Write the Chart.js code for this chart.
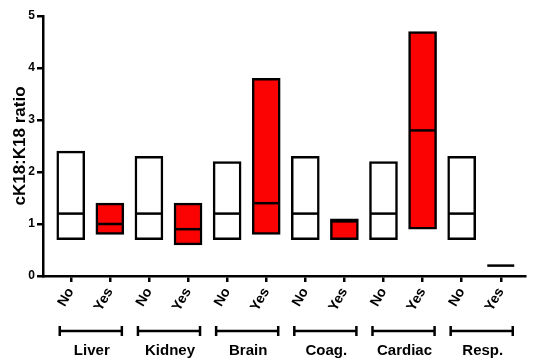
<!DOCTYPE html>
<html><head><meta charset="utf-8">
<script src="https://cdn.jsdelivr.net/npm/chart.js@4.4.0/dist/chart.umd.min.js"></script>
<style>html,body{margin:0;padding:0;background:#fff}#wrap{width:541px;height:361px}</style>
</head><body><div id="wrap"><canvas id="c" width="541" height="361"></canvas></div>
<script>
const groups = ["Liver", "Kidney", "Brain", "Coag.", "Cardiac", "Resp."];
const tickLabels = ["No", "Yes", "No", "Yes", "No", "Yes", "No", "Yes", "No", "Yes", "No", "Yes"];
const minValues = [0.7, 0.8, 0.7, 0.6, 0.7, 0.8, 0.7, 0.7, 0.7, 0.9, 0.7, 0.2];
const maxValues = [2.4, 1.4, 2.3, 1.4, 2.2, 3.8, 2.3, 1.1, 2.2, 4.7, 2.3, 0.2];
const medianValues = [1.2, 1.0, 1.2, 0.9, 1.2, 1.4, 1.2, 1.05, 1.2, 2.8, 1.2, 0.2];
const yTicks = [0, 1, 2, 3, 4, 5];

const FONT = '"Liberation Sans", Arial, Helvetica, sans-serif';
const barColors = tickLabels.map(l => l === "Yes" ? "#fb0303" : "#ffffff");
const X_MIN = -0.71, X_MAX = 11.62;

const groupPlugin = {
  id: 'groups',
  afterDraw(chart) {
    const ctx = chart.ctx, xs = chart.scales.x;
    ctx.save();
    ctx.strokeStyle = '#000'; ctx.fillStyle = '#000';
    ctx.lineWidth = 2.5;
    ctx.font = 'bold 15px ' + FONT;
    ctx.textAlign = 'center'; ctx.textBaseline = 'middle';
    groups.forEach((g, i) => {
      const x1 = xs.getPixelForValue(2 * i) - 11;
      const x2 = xs.getPixelForValue(2 * i + 1) + 12;
      const y = 331;
      ctx.beginPath();
      ctx.moveTo(x1, y); ctx.lineTo(x2, y);
      ctx.moveTo(x1, y - 5); ctx.lineTo(x1, y + 5);
      ctx.moveTo(x2, y - 5); ctx.lineTo(x2, y + 5);
      ctx.stroke();
      ctx.fillText(g, (x1 + x2) / 2 + 1, 351);
    });
    ctx.restore();
  }
};

new Chart(document.getElementById('c'), {
  type: 'bar',
  data: {
    datasets: [
      {
        type: 'line',
        data: medianValues.map((v, i) => ({x: i, y: v})),
        showLine: false,
        pointStyle: 'line',
        pointRadius: 13.5,
        pointBorderWidth: 2.5,
        borderColor: '#000',
        pointBorderColor: '#000',
        order: 0
      },
      {
        data: minValues.map((v, i) => ({x: i, y: [v, maxValues[i]]})),
        backgroundColor: barColors,
        borderColor: '#000',
        borderWidth: 2.5,
        borderSkipped: false,
        barThickness: 28,
        order: 1
      }
    ]
  },
  options: {
    responsive: false,
    animation: false,
    events: [],
    layout: {padding: {top: 14, right: 0, left: 0, bottom: 0}},
    plugins: {legend: {display: false}, tooltip: {enabled: false}},
    scales: {
      x: {
        type: 'linear',
        offset: false,
        bounds: 'data',
        min: X_MIN, max: X_MAX,
        afterDataLimits(s) { s.min = X_MIN; s.max = X_MAX; },
        afterFit(s) { s.height = 85; s.paddingLeft = 0; s.paddingRight = 0; },
        afterBuildTicks(s) { s.ticks = tickLabels.map((t, i) => ({value: i})); s.min = X_MIN; s.max = X_MAX; },
        border: {display: true, color: '#000', width: 2.5},
        grid: {offset: false, drawOnChartArea: false, drawTicks: true, tickLength: 6, color: '#000', lineWidth: 2.5},
        ticks: {
          autoSkip: false, minRotation: 60, maxRotation: 60, padding: 3,
          color: '#000', font: {family: FONT, size: 14, weight: 'bold'},
          callback: (v) => tickLabels[v]
        }
      },
      y: {
        min: 0, max: 5,
        afterFit(s) { s.width = 43; s.paddingTop = 0; s.paddingBottom = 0; },
        afterBuildTicks(s) { s.ticks = yTicks.map(v => ({value: v})); },
        border: {display: true, color: '#000', width: 2.5},
        grid: {drawOnChartArea: false, drawTicks: true, tickLength: 6, color: '#000', lineWidth: 2.5},
        ticks: {color: '#000', padding: 2, font: {family: FONT, size: 12, weight: 'bold'}},
        title: {display: true, text: 'cK18:K18 ratio', color: '#000', padding: {top: 10, bottom: 0},
          font: {family: FONT, size: 17, weight: 'bold'}}
      }
    }
  },
  plugins: [groupPlugin]
});
</script></body></html>
